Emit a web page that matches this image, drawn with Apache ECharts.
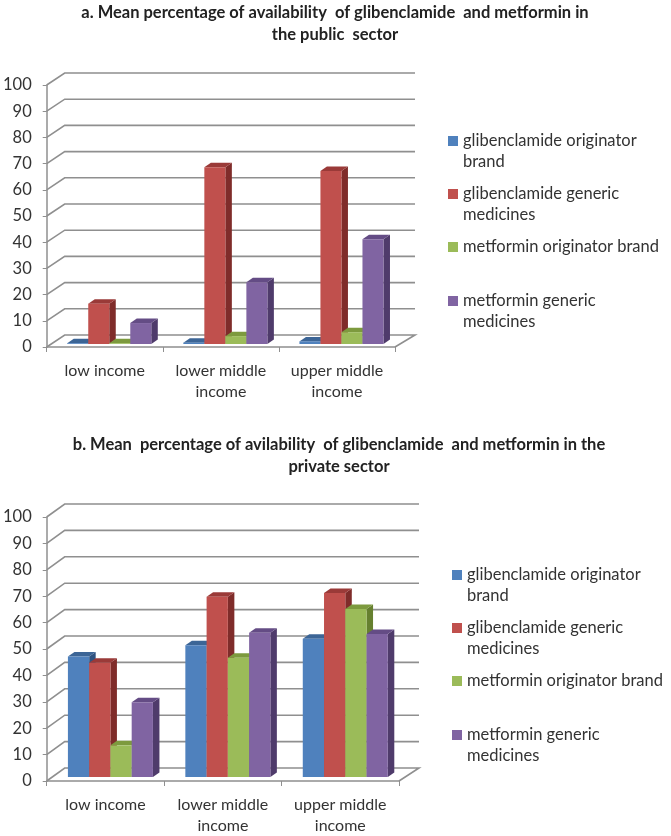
<!DOCTYPE html>
<html><head><meta charset="utf-8">
<script src="https://cdn.jsdelivr.net/npm/echarts@6/dist/echarts.min.js"></script>
<style>html,body{margin:0;padding:0;background:#fff}#c{width:671px;height:836px}</style></head>
<body><div id="c"></div>
<script>
const categories = ['low income', 'lower middle\nincome', 'upper middle\nincome'];
const yTicks = [0, 10, 20, 30, 40, 50, 60, 70, 80, 90, 100];
const seriesNames = ['glibenclamide originator brand', 'glibenclamide generic medicines', 'metformin originator brand', 'metformin generic medicines'];
const legendLabels = ['glibenclamide originator\nbrand', 'glibenclamide generic\nmedicines', 'metformin originator brand', 'metformin generic\nmedicines'];
const titleA = 'a. Mean percentage of availability  of glibenclamide  and metformin in\nthe public  sector';
const titleB = 'b. Mean  percentage of avilability  of glibenclamide  and metformin in the\nprivate sector';

const publicGlibOriginator = [0.3, 0.5, 1];
const publicGlibGeneric = [15.4, 67.5, 66];
const publicMetOriginator = [0.3, 3, 4.5];
const publicMetGeneric = [8, 23.6, 40];

const privateGlibOriginator = [45.6, 49.9, 52.4];
const privateGlibGeneric = [43.3, 68.3, 69.7];
const privateMetOriginator = [12, 45.2, 63.6];
const privateMetGeneric = [28.3, 54.6, 54.2];

const colors = [
  {front: '#4f81bd', side: '#2f5380', top: '#3c6596'},
  {front: '#c0504d', side: '#7f2c2a', top: '#9a3a38'},
  {front: '#9bbb59', side: '#66802f', top: '#7d9a3e'},
  {front: '#8064a2', side: '#4f3b6b', top: '#644c85'}
];
const FONT = 'Lato';
const TEXT = '#333333';
const GRID_LINE = '#8f8f8f';

const panels = [
  {title: titleA, titleTop: 2, titleX: 335, titleSize: 16.5, grid: {left: 45, top: 85, width: 350, height: 262},
   depth: [18, -12], wallRight: 20, barShift: [4.5, -3], legendX: 448, legendY: [141, 194, 247, 301],
   values: [publicGlibOriginator, publicGlibGeneric, publicMetOriginator, publicMetGeneric]},
  {title: titleB, titleTop: 434, titleX: 339, titleSize: 16.5, grid: {left: 45, top: 517, width: 354, height: 266},
   depth: [18, -13], wallRight: 20, barShift: [5, -4], legendX: 452, legendY: [575, 628, 681, 735],
   values: [privateGlibOriginator, privateGlibGeneric, privateMetOriginator, privateMetGeneric]}
];

function wallRenderer(p) {
  return function (params, api) {
    const v = api.value(0);
    const cs = params.coordSys;
    const y = api.coord([0, v])[1];
    const a = [cs.x, y];
    const e = [cs.x + cs.width, y];
    const b = [a[0] + p.depth[0], y + p.depth[1]];
    const c = [e[0] + p.wallRight, b[1]];
    const pts = v === 0 ? [e, c, b, a] : [a, b, c];
    return {type: 'polyline', shape: {points: pts},
      style: {stroke: GRID_LINE, lineWidth: 1.6, fill: null}, silent: true};
  };
}
function barRenderer(p, si) {
  const col = colors[si];
  return function (params, api) {
    const cat = api.value(0), v = api.value(1);
    const w = api.size([1, 0])[0] * 0.181;
    const base = api.coord([cat, 0]);
    const tip = api.coord([cat, v]);
    const x0 = base[0] + p.barShift[0] + (si - 2) * w;
    const x1 = x0 + w;
    const y0 = base[1] + p.barShift[1];
    const y1 = tip[1] + p.barShift[1];
    const dx = 6.5, dy = -4.5;
    return {type: 'group', children: [
      {type: 'polygon', shape: {points: [[x1, y0], [x1 + dx, y0 + dy], [x1 + dx, y1 + dy], [x1, y1]]}, style: {fill: col.side}},
      {type: 'polygon', shape: {points: [[x0, y1], [x0 + dx, y1 + dy], [x1 + dx, y1 + dy], [x1, y1]]}, style: {fill: col.top}},
      {type: 'rect', shape: {x: x0, y: y1, width: w, height: y0 - y1}, style: {fill: col.front}}
    ]};
  };
}

const option = {animation: false, backgroundColor: '#fff', title: [], grid: [], xAxis: [], yAxis: [], legend: [], series: []};
panels.forEach((p, i) => {
  option.title.push({text: p.title, left: p.titleX, top: p.titleTop, textAlign: 'center', padding: 0,
    textStyle: {fontFamily: FONT, fontSize: p.titleSize, fontWeight: 'bold', color: '#222', lineHeight: 22}});
  option.grid.push(p.grid);
  option.xAxis.push({type: 'category', gridIndex: i, data: categories,
    axisLine: {show: true, lineStyle: {color: GRID_LINE, width: 1.5}},
    axisTick: {show: true, length: 5, lineStyle: {color: GRID_LINE}},
    axisLabel: {fontFamily: FONT, fontSize: 16, color: TEXT, lineHeight: 21, margin: 13, interval: 0},
    splitLine: {show: false}});
  option.yAxis.push({type: 'value', gridIndex: i, min: 0, max: 100, interval: 10,
    axisLine: {show: true, lineStyle: {color: GRID_LINE, width: 1.5}},
    axisTick: {show: true, length: 4, lineStyle: {color: GRID_LINE}},
    axisLabel: {fontFamily: FONT, fontSize: 16.5, color: TEXT, margin: 15, padding: [3, 0, 0, 0]},
    splitLine: {show: false}});
  option.series.push({type: 'custom', name: 'wall' + i, xAxisIndex: i, yAxisIndex: i,
    coordinateSystem: 'cartesian2d', clip: false, z: 1, silent: true,
    data: yTicks.map(t => [t]), encode: {y: 0},
    renderItem: wallRenderer(p)});
  seriesNames.forEach((name, si) => {
    option.series.push({type: 'custom', name, xAxisIndex: i, yAxisIndex: i,
      coordinateSystem: 'cartesian2d', clip: false, z: 2 + si,
      itemStyle: {color: colors[si].front},
      data: p.values[si].map((v, c) => [c, v]), encode: {x: 0, y: 1},
      renderItem: barRenderer(p, si)});
    const two = legendLabels[si].includes('\n');
    option.legend.push({
      left: p.legendX, top: p.legendY[si] - (two ? 31.5 : 10.5), padding: 0, orient: 'vertical',
      selectedMode: false, icon: 'rect', itemWidth: 10, itemHeight: 10, itemGap: 0,
      formatter: () => (two ? '\n' : '') + legendLabels[si],
      data: [name],
      textStyle: {fontFamily: FONT, fontSize: 16.5, color: TEXT, lineHeight: 21}
    });
  });
});
const chart = echarts.init(document.getElementById('c'), null, {renderer: 'canvas', width: 671, height: 836});
chart.setOption(option);
</script></body></html>
